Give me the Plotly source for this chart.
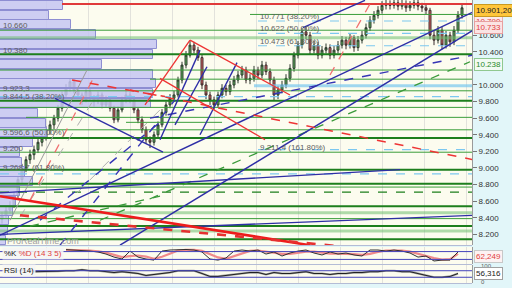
import plotly.graph_objects as go

# ---------------- price data (bar index 0..115, prices in thousands of points) ----------------
closes = [8.43, 8.49, 8.55, 8.67, 8.86, 9.00, 9.10, 9.16, 9.22, 9.31,
          9.36, 9.46, 9.52, 9.60, 9.72, 9.88, 9.96, 10.04, 9.94, 9.88,
          9.82, 9.92, 9.84, 9.80, 9.88, 9.76, 9.82, 9.72, 9.58, 9.70,
          9.82, 9.88, 9.82, 9.70, 9.58, 9.46, 9.34, 9.31, 9.40, 9.52,
          9.67, 9.76, 9.84, 9.88, 10.06, 10.24, 10.36, 10.48, 10.42, 10.33,
          10.00, 9.88, 9.82, 9.76, 9.88, 9.96, 9.92, 10.00, 10.06, 10.12,
          10.18, 10.06, 10.08, 10.18, 10.12, 10.24, 10.16, 10.06, 9.88, 9.94,
          10.00, 10.08, 10.20, 10.36, 10.48, 10.64, 10.60, 10.42, 10.48, 10.36,
          10.42, 10.45, 10.36, 10.42, 10.48, 10.54, 10.48, 10.57, 10.45, 10.54,
          10.60, 10.69, 10.78, 10.84, 10.90, 10.96, 10.97, 10.96, 10.99, 10.95,
          10.98, 10.93, 10.96, 10.99, 10.95, 10.93, 10.90, 10.60, 10.54, 10.66,
          10.48, 10.60, 10.52, 10.66, 10.84, 10.93]
highs = [8.47, 8.53, 8.60, 8.71, 8.90, 9.05, 9.14, 9.22, 9.27, 9.35,
         9.42, 9.50, 9.57, 9.64, 9.76, 9.92, 10.01, 10.08, 10.07, 9.98,
         9.91, 9.96, 9.97, 9.88, 9.92, 9.91, 9.87, 9.85, 9.75, 9.74,
         9.86, 9.93, 9.92, 9.85, 9.73, 9.62, 9.50, 9.38, 9.44, 9.56,
         9.71, 9.80, 9.89, 9.93, 10.10, 10.28, 10.41, 10.53, 10.52, 10.46,
         10.36, 10.04, 9.92, 9.86, 9.92, 10.01, 10.00, 10.05, 10.11, 10.17,
         10.23, 10.22, 10.13, 10.23, 10.22, 10.29, 10.28, 10.20, 10.10, 9.99,
         10.05, 10.13, 10.25, 10.40, 10.53, 10.69, 10.70, 10.64, 10.53, 10.52,
         10.47, 10.50, 10.49, 10.47, 10.53, 10.59, 10.58, 10.62, 10.60, 10.59,
         10.65, 10.74, 10.83, 10.89, 10.95, 11.01, 11.03, 11.02, 11.04, 11.03,
         11.03, 11.02, 11.01, 11.04, 11.03, 10.99, 10.97, 10.93, 10.66, 10.71,
         10.70, 10.65, 10.64, 10.71, 10.89, 10.97]
lows = [8.33, 8.40, 8.45, 8.52, 8.64, 8.82, 8.95, 9.05, 9.10, 9.18,
        9.26, 9.33, 9.40, 9.47, 9.56, 9.68, 9.84, 9.92, 9.90, 9.83,
        9.76, 9.79, 9.80, 9.74, 9.77, 9.72, 9.73, 9.68, 9.54, 9.55,
        9.67, 9.78, 9.78, 9.66, 9.54, 9.42, 9.29, 9.24, 9.27, 9.37,
        9.49, 9.63, 9.72, 9.80, 9.85, 10.02, 10.20, 10.33, 10.38, 10.29,
        9.95, 9.83, 9.76, 9.70, 9.73, 9.84, 9.87, 9.88, 9.96, 10.02,
        10.08, 10.02, 10.01, 10.04, 10.07, 10.08, 10.12, 10.01, 9.82, 9.83,
        9.90, 9.96, 10.04, 10.16, 10.32, 10.44, 10.55, 10.37, 10.38, 10.31,
        10.32, 10.38, 10.31, 10.32, 10.38, 10.44, 10.43, 10.44, 10.40, 10.41,
        10.50, 10.56, 10.65, 10.74, 10.80, 10.86, 10.91, 10.91, 10.92, 10.90,
        10.91, 10.88, 10.89, 10.92, 10.90, 10.88, 10.85, 10.55, 10.48, 10.50,
        10.43, 10.44, 10.46, 10.48, 10.62, 10.80]
first_open = 8.38
opens = [first_open] + closes[:-1]
bar_idx = list(range(len(closes)))

# volume-by-price profile
profile_prices = [10.96, 10.84, 10.73, 10.61, 10.49, 10.37, 10.25, 10.13, 10.02, 9.90,
                  9.78, 9.66, 9.54, 9.43, 9.31, 9.19, 9.07, 8.95, 8.84, 8.72,
                  8.60, 8.48, 8.37, 8.25, 8.13]
profile_volumes = [40, 31, 45, 61, 100, 97, 65, 97, 99, 97,
                   96, 24, 29, 30, 21, 13, 14, 16, 21, 13,
                   10, 8, 6, 5, 4]

# stochastic (14 3 5)
stoch_idx = list(range(16, 115, 2))
stoch_k = [95, 92, 90, 84, 77, 61, 38, 23, 84, 38,
           23, 15, 84, 92, 94, 96, 92, 77, 23, 15,
           31, 84, 92, 84, 92, 61, 77, 46, 69, 84,
           92, 69, 54, 77, 61, 69, 54, 46, 92, 92,
           84, 92, 84, 69, 38, 46, 8, 15, 15, 77]
stoch_d = [93, 93, 91, 88, 82, 72, 55, 38, 45, 50,
           42, 25, 40, 65, 88, 94, 93, 85, 60, 35,
           25, 45, 70, 85, 88, 78, 73, 62, 62, 70,
           80, 80, 70, 65, 65, 65, 60, 55, 62, 78,
           88, 88, 88, 80, 62, 48, 30, 18, 22, 62]

# RSI (14)
rsi_idx = list(range(8, 115, 2))
rsi_vals = [64, 64, 64, 67, 70, 70, 76, 70, 70, 64,
            59, 64, 59, 53, 41, 47, 53, 59, 70, 70,
            70, 53, 35, 35, 41, 47, 53, 59, 59, 47,
            59, 53, 53, 59, 64, 53, 53, 47, 53, 53,
            59, 59, 64, 64, 70, 70, 64, 64, 53, 41,
            30, 30, 35, 53]

price_ticks = [8.2, 8.4, 8.6, 8.8, 9.0, 9.2, 9.4, 9.6, 9.8, 10.0, 10.4, 10.6]

# drawn support / resistance levels (price)
dark_green_levels = [10.37, 9.81, 9.36, 8.98, 8.81, 8.54, 8.30, 8.14]
green_levels = [10.66, 10.18, 9.93, 9.73, 9.46, 9.19, 8.77, 8.39]
light_green_levels = [10.57, 8.46, 8.24]
partial_green_levels = [(10.85, 62), (10.07, 37), (9.61, 6)]
green_segments = [(9.55, 31, 55)]
dashed_green_levels = [8.71]
light_blue_dashed_levels = [(9.86, -0.5), (8.93, -0.5), (9.22, 64), (10.771, 64), (10.622, 64), (10.473, 64)]
light_blue_band = [(9.99, 63)]
red_top_level = [(10.976, 15)]

# drawn trend lines: (bar0, price0, bar1, price1)
blue_lines = [(-0.5, 8.19, 117.75, 10.88), (29.5, 8.07, 117.75, 10.66),
              (75.25, 10.69, 90.75, 11.02), (13.25, 9.84, 40.25, 9.19),
              (-0.5, 8.20, 117.75, 8.43), (-0.5, 8.70, 99.5, 8.98),
              (39.5, 9.34, 49.5, 10.42), (43.25, 9.52, 51.25, 10.22),
              (49.5, 9.40, 58.75, 10.27)]
blue_dashed_lines = [(9.5, 8.37, 40.75, 9.60), (37, 9.60, 117.75, 10.36),
                     (14.5, 8.07, 43.25, 9.82)]
red_lines = [(35.75, 9.76, 47, 10.54), (47, 10.54, 72, 9.88), (39.5, 10.08, 65.75, 9.34)]
red_thick_lines = [(-0.5, 8.66, 77, 8.07)]
red_thick_dashed = [(4.5, 8.43, 85.75, 8.05)]
red_dashed_lines = [(32, 9.94, 117.75, 9.10), (17.5, 10.06, 40.75, 9.86)]
pink_dotted_lines = [(7, 8.61, 23.25, 10.12), (82, 10.12, 92.5, 11.02)]
gray_lines = [(2, 8.37, 21.25, 10.18)]
gray_dashed_lines = [(4.5, 8.41, 22.75, 9.81), (18.75, 8.70, 39.5, 9.70)]
green_dashed_lines = [(24.5, 8.37, 117, 10.28), (7, 8.30, 39.5, 8.66)]

FONT = "Liberation Sans"
X_END = 117.5

fig = go.Figure()

fig.add_trace(go.Bar(x=profile_volumes, y=profile_prices, orientation="h", width=0.112,
                     xaxis="x5", yaxis="y",
                     marker=dict(color="rgba(198,198,242,0.85)", line=dict(color="#8e8ed2", width=1)),
                     showlegend=False, hoverinfo="skip"))

fig.add_trace(go.Candlestick(x=bar_idx, open=opens, high=highs, low=lows, close=closes,
                             xaxis="x", yaxis="y", whiskerwidth=0,
                             increasing=dict(line=dict(color="#2f3a2f", width=1), fillcolor="#5cb85c"),
                             decreasing=dict(line=dict(color="#3a2f2f", width=1), fillcolor="#e06060"),
                             showlegend=False, hoverinfo="skip"))

fig.add_trace(go.Scatter(x=stoch_idx, y=stoch_d, xaxis="x2", yaxis="y2", mode="lines",
                         line=dict(color="#f08a8a", width=2.2), showlegend=False, hoverinfo="skip"))
fig.add_trace(go.Scatter(x=stoch_idx, y=stoch_k, xaxis="x2", yaxis="y2", mode="lines",
                         line=dict(color="#303030", width=1), showlegend=False, hoverinfo="skip"))
fig.add_trace(go.Scatter(x=rsi_idx, y=rsi_vals, xaxis="x3", yaxis="y3", mode="lines",
                         line=dict(color="#a0a0a0", width=2.2), showlegend=False, hoverinfo="skip"))
fig.add_trace(go.Scatter(x=rsi_idx, y=rsi_vals, xaxis="x3", yaxis="y3", mode="lines",
                         line=dict(color="#202020", width=1), showlegend=False, hoverinfo="skip"))

shapes = []


def seg(x0, y0, x1, y1, color, width, dash="solid", xref="x", yref="y"):
    shapes.append(dict(type="line", xref=xref, yref=yref, x0=x0, y0=y0, x1=x1, y1=y1,
                       line=dict(color=color, width=width, dash=dash), layer="above"))


for v in light_green_levels:
    seg(-0.5, v, X_END, v, "rgba(110,190,110,0.55)", 3)
for v in green_levels:
    seg(-0.5, v, X_END, v, "#3a9e3a", 1)
for v, s in partial_green_levels:
    seg(s, v, X_END, v, "#3a9e3a", 1)
for v, s, e in green_segments:
    seg(s, v, e, v, "#3a9e3a", 1)
for v in dark_green_levels:
    seg(-0.5, v, X_END, v, "#1d7f1d", 2)
for v in dashed_green_levels:
    seg(-0.5, v, X_END, v, "#1d7f1d", 1.2, "dash")
for v, s in light_blue_dashed_levels:
    seg(s, v, X_END, v, "#7cc8f0", 1.2, "dash")
for v, s in light_blue_band:
    seg(s, v, X_END, v, "rgba(120,200,240,0.7)", 3)
for v, s in red_top_level:
    seg(s, v, X_END, v, "#e03a3a", 2)

for l in gray_lines:
    seg(*l, "#9a9a9a", 1)
for l in gray_dashed_lines:
    seg(*l, "#b0b0b0", 1, "dash")
for l in green_dashed_lines:
    seg(*l, "#3a9a3a", 1.3, "dash")
for l in pink_dotted_lines:
    seg(*l, "#f07070", 1.3, "dash")
for l in blue_dashed_lines:
    seg(*l, "#3535b5", 1.4, "dash")
for l in blue_lines:
    seg(*l, "#2e2ea6", 1.4)
for l in red_lines:
    seg(*l, "#ee3434", 1.3)
for l in red_dashed_lines:
    seg(*l, "#ee3434", 1.5, "dash")
for l in red_thick_lines:
    seg(*l, "#ee1c1c", 2.6)
for l in red_thick_dashed:
    seg(*l, "#e63030", 2.6, "dash")

# oscillator guide lines
for v in (80, 20):
    seg(-0.5, v, X_END, v, "#4444bb", 1, yref="y2", xref="x2")
for v in (70, 30):
    seg(-0.5, v, X_END, v, "#4444bb", 1, yref="y3", xref="x3")

# panel separators
for yp in (1 - 245.5 / 288, 1 - 264.5 / 288, 1 - 283.5 / 288):
    seg(0, yp, 0.9219, yp, "#b4bcd6", 1, xref="paper", yref="paper")

ann = []


def txt(x, y, text, color="#606060", size=8, xref="x", yref="y", xanchor="left",
        yanchor="middle", bg=None, border=None):
    d = dict(x=x, y=y, xref=xref, yref=yref, text=text, showarrow=False, xanchor=xanchor,
             yanchor=yanchor, font=dict(family=FONT, size=size, color=color), borderpad=1)
    if bg:
        d["bgcolor"] = bg
    if border:
        d["bordercolor"] = border
        d["borderwidth"] = 1
    ann.append(d)


# left profile / fibo labels
txt(-0.3, 10.72, "10.660")
txt(-0.3, 10.42, "10.380")
txt(-0.3, 9.96, "9.923,3")
txt(-0.3, 9.86, "9.844,5 (38.20%)")
txt(-0.3, 9.43, "9.596,6 (50.00%)")
txt(-0.3, 9.24, "9.200")
txt(-0.3, 9.00, "9.268,7 (61.80%)")
txt(64, 10.83, "10.771 (38.20%)")
txt(64, 10.675, "10.622 (50.00%)")
txt(64, 10.525, "10.473 (61.80%)")
txt(64, 9.25, "9.211,4 (161.80%)")
txt(0.01, 1 - 241 / 288, "ProRealTime.com", color="#a0a0a0", size=9, xref="paper", yref="paper")

# right-side value labels
RX = 474 / 512
txt(RX, 10.849, "10.849", color="#909090", xref="paper", bg="#ececec", border="#c8c8c8")
txt(RX, 10.77, "10.790", color="#e04040", xref="paper", bg="#fbeaea", border="#e8b0b0")
txt(RX, 10.69, "10.733", color="#e04040", xref="paper", bg="#fbe4e4", border="#e8a0a0")
txt(RX, 10.901, "10.901,20", color="#202020", xref="paper", bg="#ffc63a", border="#c89a20")
txt(RX, 10.25, "10.238", color="#2a8a2a", xref="paper", bg="#f2faf2", border="#90c890")
txt(RX, 1 - 256 / 288, "62,249", color="#e04040", xref="paper", yref="paper", bg="#fdf2f2", border="#c8c8c8")
txt(RX + 0.01, 1 - 266 / 288, "100", color="#606060", size=6, xref="paper", yref="paper")
txt(RX, 1 - 273 / 288, "56,316", color="#202020", xref="paper", yref="paper", bg="#ffffff", border="#a0a0a0")
txt(RX + 0.01, 1 - 281.5 / 288, "0", color="#606060", size=6, xref="paper", yref="paper")

# panel titles
txt(0.004, 1 - 253 / 288, "%K <span style='color:#e04040'>%D (14 3 5)</span>", color="#202020",
    size=8, xref="paper", yref="paper", bg="rgba(245,245,245,0.9)")
txt(0.004, 1 - 270 / 288, "RSI (14)", color="#202020", size=8, xref="paper", yref="paper",
    bg="rgba(245,245,245,0.9)")
txt(0.004, 1 - 284 / 288, "ADX <span style='color:#e04040'>ADXR (14 14)</span>", color="#202020",
    size=8, xref="paper", yref="paper", yanchor="top")

grid_vals = [11, 21.5, 32, 42.5, 53, 63.5, 74, 84.5, 95, 105.5, 116]
xcommon = dict(domain=[0, 0.9219], range=[-0.5, X_END], showticklabels=False, showgrid=True,
               gridcolor="#e2e2dc", gridwidth=1, tickvals=grid_vals, ticks="", zeroline=False,
               showline=False, fixedrange=True)

fig.update_layout(
    width=512, height=288, margin=dict(l=0, r=0, t=0, b=0),
    paper_bgcolor="#e2f6f9", plot_bgcolor="#fcfcef",
    showlegend=False, bargap=0,
    font=dict(family=FONT, size=8, color="#333333"),
    xaxis=dict(**xcommon, anchor="y", rangeslider=dict(visible=False)),
    xaxis2=dict(**xcommon, anchor="y2", matches="x"),
    xaxis3=dict(**xcommon, anchor="y3", matches="x"),
    xaxis4=dict(**xcommon, anchor="y4", matches="x"),
    xaxis5=dict(overlaying="x", anchor="y", range=[0, 300], visible=False, side="top"),
    yaxis=dict(domain=[1 - 245 / 288, 1], range=[8.072, 11.024], side="right",
               tickvals=price_ticks, tickformat=".3f", ticks="outside", ticklen=4,
               tickcolor="#777777", tickfont=dict(size=8, color="#333333", family=FONT),
               showgrid=False, zeroline=False, showline=True, linecolor="#9a9a9a",
               fixedrange=True),
    yaxis2=dict(domain=[1 - 264 / 288, 1 - 247 / 288], range=[-15, 115], side="right",
                showticklabels=False, showgrid=False, zeroline=False, showline=True,
                linecolor="#9a9a9a", ticks=""),
    yaxis3=dict(domain=[1 - 283 / 288, 1 - 265 / 288], range=[-5, 105], side="right",
                showticklabels=False, showgrid=False, zeroline=False, showline=True,
                linecolor="#9a9a9a", ticks=""),
    yaxis4=dict(domain=[0, 1 - 284.5 / 288], range=[0, 100], side="right",
                showticklabels=False, showgrid=False, zeroline=False, showline=True,
                linecolor="#9a9a9a", ticks=""),
    shapes=shapes,
    annotations=ann,
)

fig.write_html("out.html")
